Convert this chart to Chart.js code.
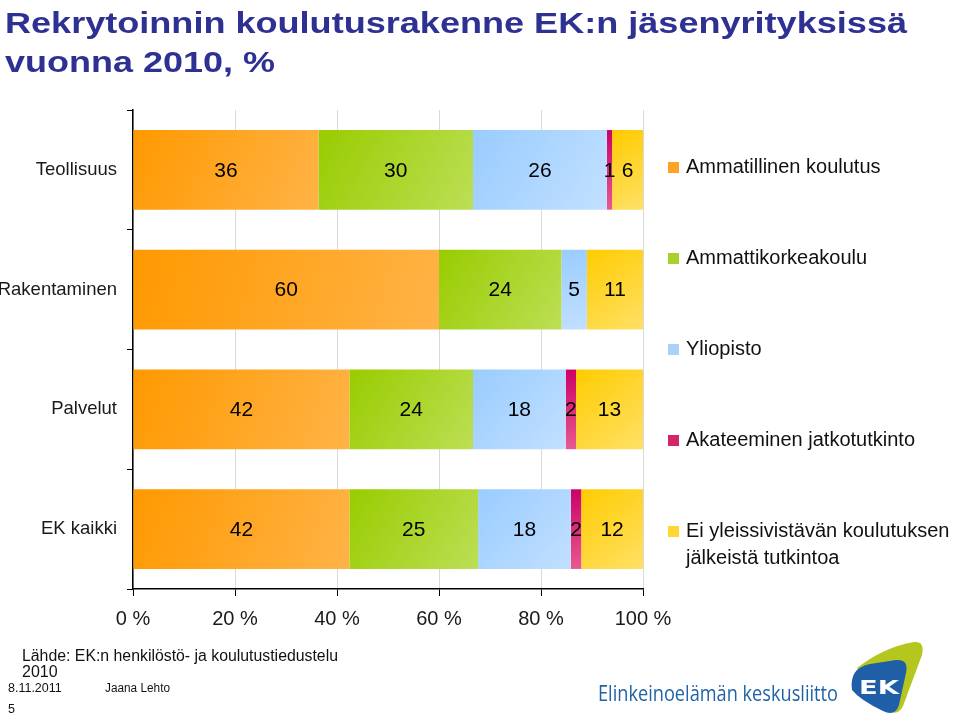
<!DOCTYPE html>
<html>
<head>
<meta charset="utf-8">
<script src="https://cdn.jsdelivr.net/npm/chart.js@4.4.1/dist/chart.umd.min.js"></script>
<style>
  body { margin: 0; background: #fff; }
  #wrap { position: relative; width: 960px; height: 722px; overflow: hidden; }
  #chart { position: absolute; left: 0; top: 0; }
  #overlay { position: absolute; left: 0; top: 0; pointer-events: none; }
</style>
</head>
<body>
<div id="wrap">
  <canvas id="chart" width="960" height="722"></canvas>
  <svg id="overlay" width="960" height="722" xmlns="http://www.w3.org/2000/svg">
    <g font-family="'Liberation Sans', Arial, sans-serif" font-weight="bold" fill="#2E3192" font-size="30">
      <text x="5" y="33" textLength="902" lengthAdjust="spacingAndGlyphs">Rekrytoinnin koulutusrakenne EK:n jäsenyrityksissä</text>
      <text x="5" y="72" textLength="270" lengthAdjust="spacingAndGlyphs">vuonna 2010, %</text>
    </g>
    <g font-family="'Liberation Sans', Arial, sans-serif" fill="#111">
      <text x="22" y="661" font-size="16" textLength="316" lengthAdjust="spacingAndGlyphs">Lähde: EK:n henkilöstö- ja koulutustiedustelu</text>
      <text x="22" y="677" font-size="16">2010</text>
      <text x="8" y="692" font-size="12.5">8.11.2011</text>
      <text x="105" y="692" font-size="12.5" textLength="65" lengthAdjust="spacingAndGlyphs">Jaana Lehto</text>
      <text x="8" y="713" font-size="12.5">5</text>
    </g>
    <text x="598" y="701" font-family="'Open Sans', 'DejaVu Sans', sans-serif" font-size="21" fill="#1F63A6" textLength="240" lengthAdjust="spacingAndGlyphs">Elinkeinoelämän keskusliitto</text>
    <!-- EK logo -->
    <path d="M857 668 Q884 647 914 642 Q925 641 922 655 L903 706 Q898 716 889 711 Z" fill="#B5C61E"/>
    <path d="M852 690 Q849 668 870 664 L896 660 Q909 659 906 673 L899 705 Q895 717 883 711 Q860 700 852 690 Z" fill="#1F5FA8"/>
    <text x="879" y="694" font-family="'DejaVu Sans', sans-serif" font-weight="bold" font-size="19" fill="#fff" text-anchor="middle" textLength="40" lengthAdjust="spacingAndGlyphs">EK</text>
  </svg>
</div>
<script>
const categories = ['Teollisuus', 'Rakentaminen', 'Palvelut', 'EK kaikki'];
const seriesNames = ['Ammatillinen koulutus', 'Ammattikorkeakoulu', 'Yliopisto', 'Akateeminen jatkotutkinto', 'Ei yleissivistävän koulutuksen jälkeistä tutkintoa'];
const ammatillinen = [36, 60, 42, 42];
const ammattikorkeakoulu = [30, 24, 24, 25];
const yliopisto = [26, 5, 18, 18];
const jatkotutkinto = [1, 0, 2, 2];
const eiTutkintoa = [6, 11, 13, 12];
const xTickValues = [0, 20, 40, 60, 80, 100];

const rawSeries = [ammatillinen, ammattikorkeakoulu, yliopisto, jatkotutkinto, eiTutkintoa];
const flatColors = ['#FFA126', '#A8D22B', '#A9D1FA', '#D4246A', '#FFD633'];
// dark -> light ends of each bar gradient
const gradColors = [
  ['#FF9900', '#FFB347'],
  ['#99CC00', '#BCDF55'],
  ['#99CCFF', '#C2E0FF'],
  ['#CC0066', '#E85A90'],
  ['#FFCC00', '#FFE066']
];

const FONT = "'Liberation Sans', Arial, sans-serif";

// rows are drawn as 100 % stacks
const totals = categories.map((c, i) => rawSeries.reduce((s, arr) => s + arr[i], 0));
const shares = rawSeries.map(arr => arr.map((v, i) => v / totals[i] * 100));

function segmentGradient(context, di) {
  const chart = context.chart;
  const xs = chart.scales.x, ys = chart.scales.y;
  if (!xs || !ys || !chart.chartArea) return flatColors[di];
  const i = context.dataIndex;
  let start = 0;
  for (let k = 0; k < di; k++) start += shares[k][i];
  const x0 = xs.getPixelForValue(start);
  const x1 = xs.getPixelForValue(start + shares[di][i]);
  const yc = ys.getPixelForValue(i);
  const g = chart.ctx.createLinearGradient(x0, yc - 40, x1, yc + 40);
  g.addColorStop(0, gradColors[di][0]);
  g.addColorStop(1, gradColors[di][1]);
  return g;
}

const valueLabels = {
  id: 'valueLabels',
  afterDatasetsDraw(chart) {
    const ctx = chart.ctx;
    ctx.save();
    ctx.font = '21px ' + FONT;
    ctx.fillStyle = '#000';
    ctx.textAlign = 'center';
    ctx.textBaseline = 'middle';
    chart.data.datasets.forEach((ds, di) => {
      chart.getDatasetMeta(di).data.forEach((bar, i) => {
        const v = rawSeries[di][i];
        if (!v) return;
        ctx.fillText(String(v), (bar.x + bar.base) / 2, bar.y + 1);
      });
    });
    ctx.restore();
  }
};

const sideLegend = {
  id: 'sideLegend',
  afterDraw(chart) {
    const ctx = chart.ctx;
    const area = chart.chartArea;
    const x = area.right + 25;
    let y = area.top + 57;
    ctx.save();
    ctx.font = '20px ' + FONT;
    ctx.textBaseline = 'middle';
    ctx.textAlign = 'left';
    seriesNames.forEach((name, k) => {
      ctx.fillStyle = flatColors[k];
      ctx.fillRect(x, y - 5, 11, 11);
      ctx.fillStyle = '#111';
      if (k === 4) {
        ctx.fillText('Ei yleissivistävän koulutuksen', x + 18, y);
        ctx.fillText('jälkeistä tutkintoa', x + 18, y + 27);
      } else {
        ctx.fillText(name, x + 18, y);
      }
      y += 91;
    });
    ctx.restore();
  }
};

new Chart(document.getElementById('chart'), {
  type: 'bar',
  data: {
    labels: categories,
    datasets: seriesNames.map((name, k) => ({
      label: name,
      data: shares[k],
      backgroundColor: (context) => segmentGradient(context, k),
      borderWidth: 0,
      barPercentage: 0.665,
      categoryPercentage: 1
    }))
  },
  options: {
    indexAxis: 'y',
    responsive: false,
    animation: false,
    layout: { padding: { top: 110, right: 317, bottom: 73, left: 0 } },
    plugins: {
      legend: { display: false },
      tooltip: { enabled: false }
    },
    scales: {
      x: {
        stacked: true,
        min: 0,
        max: 100,
        afterBuildTicks: (scale) => { scale.ticks = xTickValues.map(v => ({ value: v })); },
        ticks: {
          callback: (v) => v + ' %',
          font: { family: FONT, size: 20 },
          color: '#1a1a1a',
          padding: 11
        },
        grid: { color: '#D9D9D9', tickColor: '#000', tickLength: 7, lineWidth: 1 },
        border: { color: '#000', width: 1.5 },
        afterFit: (scale) => { scale.height = 60; }
      },
      y: {
        stacked: true,
        grid: { drawOnChartArea: false, offset: true, tickColor: '#000', tickLength: 6 },
        border: { color: '#000', width: 1.5 },
        ticks: {
          font: { family: FONT, size: 18.5 },
          color: '#1a1a1a',
          padding: 10
        },
        afterFit: (scale) => { scale.width = 133; }
      }
    }
  },
  plugins: [valueLabels, sideLegend]
});
</script>
</body>
</html>
